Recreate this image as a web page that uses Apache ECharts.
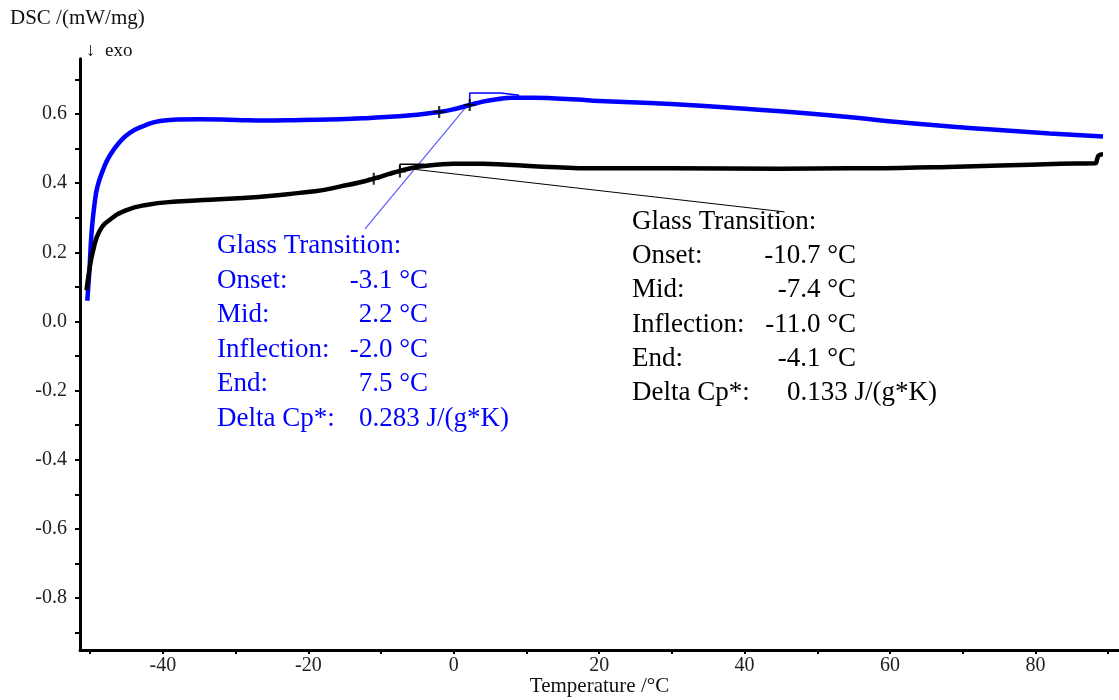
<!DOCTYPE html>
<html>
<head>
<meta charset="utf-8">
<title>DSC glass transition</title>
<script src="https://cdn.jsdelivr.net/npm/echarts@6/dist/echarts.min.js"></script>
<style>
  html, body { margin: 0; padding: 0; background: #fff; }
  #chart { width: 1119px; height: 700px; }
</style>
</head>
<body>
<div id="chart"></div>
<script>
// ---- measured DSC curves (temperature in °C, DSC in mW/mg) ----
const blueTemp = [-50.4, -50.1, -49.8, -49.4, -49.0, -48.2, -47.3, -45.9, -44.6, -42.7, -40.4, -38, -35, -30, -26, -21, -15.7, -12, -8.8, -5, -2, 0, 2.2, 4, 6, 8, 11, 14, 17, 20, 27, 34, 41, 48, 55, 61, 69.6, 75, 82, 89.3];
const blueDsc  = [0.06, 0.15, 0.26, 0.34, 0.39, 0.44, 0.48, 0.52, 0.545, 0.565, 0.58, 0.584, 0.585, 0.583, 0.581, 0.583, 0.585, 0.588, 0.592, 0.598, 0.606, 0.614, 0.626, 0.636, 0.643, 0.647, 0.647, 0.645, 0.642, 0.638, 0.632, 0.624, 0.614, 0.603, 0.59, 0.577, 0.562, 0.554, 0.544, 0.535];

const blackTemp = [-50.5, -50.1, -49.6, -48.7, -47.3, -45.0, -42.3, -38.1, -33.5, -26.9, -21.2, -18, -15.7, -13, -10.7, -9, -7.3, -4.7, -2, 0, 4, 7.3, 14.2, 18.7, 30, 45, 54.5, 61.3, 68, 75.1, 83.4, 88.2, 88.5, 88.7, 89.3];
const blackDsc  = [0.09, 0.15, 0.205, 0.262, 0.294, 0.322, 0.337, 0.347, 0.352, 0.36, 0.372, 0.38, 0.39, 0.402, 0.415, 0.426, 0.436, 0.448, 0.454, 0.456, 0.456, 0.453, 0.446, 0.443, 0.443, 0.442, 0.443, 0.444, 0.447, 0.451, 0.456, 0.458, 0.47, 0.48, 0.484];

// ---- glass transition evaluations ----
const blueTg  = { onset: -3.1,  mid: 2.2,  inflection: -2.0,  end: 7.5,  deltaCp: 0.283 };
const blackTg = { onset: -10.7, mid: -7.4, inflection: -11.0, end: -4.1, deltaCp: 0.133 };

// DSC value on each curve at the inflection / mid points (cross markers)
const blueMarkDsc  = [0.606, 0.626];
const blackMarkDsc = [0.413, 0.434];

// step (mid -> end) and leader lines of each evaluation
const blueStepDsc   = [0.626, 0.661, 0.661, 0.654];
const blueLeaderT   = [1.8, -12.2];
const blueLeaderDsc = [0.623, 0.268];
const blackStepDsc  = [0.434, 0.455, 0.455];
const blackLeaderT   = [-5.4, 45.5];
const blackLeaderDsc = [0.44, 0.317];

// ---- axis ticks ----
const xTicks  = [-50, -40, -30, -20, -10, 0, 10, 20, 30, 40, 50, 60, 70, 80, 90];
const xLabels = [-40, -20, 0, 20, 40, 60, 80];
const yTicks  = [-0.9, -0.8, -0.7, -0.6, -0.5, -0.4, -0.3, -0.2, -0.1, 0, 0.1, 0.2, 0.3, 0.4, 0.5, 0.6, 0.7];
const yLabels = [-0.8, -0.6, -0.4, -0.2, 0, 0.2, 0.4, 0.6];

const SERIF = '"Liberation Serif", "Times New Roman", serif';
const BLUE = '#0000ff';

const zip = (a, b) => a.map((v, i) => [v, b[i]]);

const blueStep  = zip([blueTg.mid, blueTg.mid, blueTg.end - 1.0, blueTg.end + 1.5], blueStepDsc);
const blackStep = zip([blackTg.mid, blackTg.mid, blackTg.end], blackStepDsc);

const plusSymbol = 'path://M4.1,0h1.8v10h-1.8zM0,4.1h10v1.8h-10z';

function tgBlock(tg, color, left, valueRight, dcpLeft, top, lineGap) {
  const rows = [
    ['Glass Transition:', null],
    ['Onset:', tg.onset.toFixed(1) + ' °C'],
    ['Mid:', tg.mid.toFixed(1) + ' °C'],
    ['Inflection:', tg.inflection.toFixed(1) + ' °C'],
    ['End:', tg.end.toFixed(1) + ' °C']
  ];
  const els = [];
  const font = { fontFamily: SERIF, fontSize: 27, fill: color };
  rows.forEach((r, i) => {
    const y = top + i * lineGap;
    els.push({ type: 'text', x: left, y: y, style: Object.assign({ text: r[0], align: 'left', verticalAlign: 'middle' }, font) });
    if (r[1]) {
      els.push({ type: 'text', x: valueRight, y: y, style: Object.assign({ text: r[1], align: 'right', verticalAlign: 'middle' }, font) });
    }
  });
  const y = top + 5 * lineGap;
  els.push({ type: 'text', x: left, y: y, style: Object.assign({ text: 'Delta Cp*:', align: 'left', verticalAlign: 'middle' }, font) });
  els.push({ type: 'text', x: dcpLeft, y: y, style: Object.assign({ text: tg.deltaCp.toFixed(3) + ' J/(g*K)', align: 'left', verticalAlign: 'middle' }, font) });
  return els;
}

const chart = echarts.init(document.getElementById('chart'), null, { renderer: 'canvas' });

const option = {
  animation: false,
  backgroundColor: '#fff',
  grid: { left: 80, right: 0, top: 58.7, bottom: 50, outerBoundsMode: 'none', containLabel: false },
  xAxis: {
    type: 'value',
    min: -51.4,
    max: 91.5,
    name: 'Temperature /°C',
    nameLocation: 'middle',
    nameGap: 26,
    nameMoveOverlap: false,
    nameTextStyle: { fontFamily: SERIF, fontSize: 21, color: '#111' },
    axisLine: { onZero: false, lineStyle: { color: '#000', width: 3 } },
    axisTick: { show: true, length: 4, customValues: xTicks, lineStyle: { color: '#000', width: 2 } },
    axisLabel: { customValues: xLabels, margin: 6, fontFamily: SERIF, fontSize: 20, color: '#222' },
    splitLine: { show: false }
  },
  yAxis: {
    type: 'value',
    min: -0.95,
    max: 0.76,
    axisLine: { show: true, onZero: false, lineStyle: { color: '#000', width: 3 } },
    axisTick: { show: true, length: 5, customValues: yTicks, lineStyle: { color: '#000', width: 2 } },
    axisLabel: { customValues: yLabels, margin: 13, fontFamily: SERIF, fontSize: 20, color: '#222',
                 formatter: v => v.toFixed(1) },
    splitLine: { show: false }
  },
  series: [
    { type: 'line', data: zip(blueLeaderT, blueLeaderDsc), symbol: 'none', silent: true,
      lineStyle: { color: '#5a5aff', width: 1.2 }, z: 3 },
    { type: 'line', data: zip(blackLeaderT, blackLeaderDsc), symbol: 'none', silent: true,
      lineStyle: { color: '#000', width: 1 }, z: 3 },
    { type: 'line', name: 'sample 1', data: zip(blueTemp, blueDsc), symbol: 'none',
      smooth: 0.5, lineStyle: { color: BLUE, width: 4.5 }, z: 4 },
    { type: 'line', name: 'sample 2', data: zip(blackTemp, blackDsc), symbol: 'none',
      smooth: 0.5, lineStyle: { color: '#000', width: 4.5 }, z: 4 },
    { type: 'line', data: blueStep, symbol: 'none', silent: true,
      lineStyle: { color: BLUE, width: 1.5 }, z: 5 },
    { type: 'line', data: blackStep, symbol: 'none', silent: true,
      lineStyle: { color: '#000', width: 1.5 }, z: 5 },
    { type: 'scatter', symbol: plusSymbol, symbolSize: 12, silent: true,
      itemStyle: { color: '#000' }, z: 6,
      data: zip([blueTg.inflection, blueTg.mid], blueMarkDsc)
        .concat(zip([blackTg.inflection, blackTg.mid], blackMarkDsc)) }
  ],
  graphic: [
    { type: 'text', left: 10, top: 8, style: { text: 'DSC /(mW/mg)', fontFamily: SERIF, fontSize: 21, fill: '#111' } },
    { type: 'text', left: 86, top: 42, style: { text: '↓  exo', fontFamily: SERIF, fontSize: 19, fill: '#111' } }
  ]
    .concat(tgBlock(blueTg, BLUE, 217, 428, 359, 246, 34.5))
    .concat(tgBlock(blackTg, '#000', 632, 856, 787, 222, 34.2))
};

chart.setOption(option);
</script>
</body>
</html>
